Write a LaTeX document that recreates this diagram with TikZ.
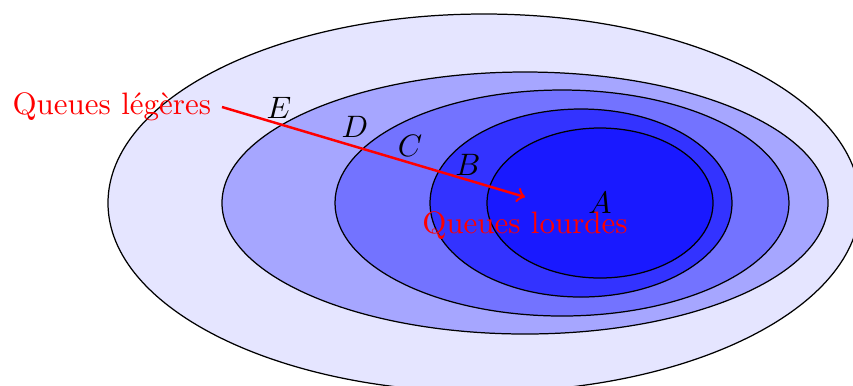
\documentclass[tikz,border=0pt]{standalone}
\begin{document}
\begin{tikzpicture}[x=0.3226pt,y=-0.3226pt,
  zone/.style={draw=black,line width=0.4pt},
  lab/.style={font=\itshape},
  redlab/.style={text=red},
  flow/.style={red,thick,-to}]
\useasboundingbox (0,0) rectangle (853,385);
\begin{scope}
\clip (0,0) rectangle (853,385);
\draw[zone,fill=blue!10] (484,203) ellipse [x radius=376,y radius=189];
\end{scope}
\draw[zone,fill=blue!35] (525,203) ellipse [x radius=303,y radius=131];
\draw[zone,fill=blue!55] (562,203) ellipse [x radius=227,y radius=113];
\draw[zone,fill=blue!80] (581,203) ellipse [x radius=151,y radius=94];
\draw[zone,fill=blue!90] (600,203) ellipse [x radius=113,y radius=75];
\node[lab] (lE) at (279,108) {$E$};
\node[lab] (lD) at (355,127) {$D$};
\node[lab] (lC) at (410,146) {$C$};
\node[lab] (lB) at (468,165) {$B$};
\node[lab] (lA) at (600,203) {$A$};
\coordinate (s) at (222,107);
\coordinate (t) at (525,197);
\node[redlab,anchor=east] (light) at (s) {Queues légères};
\node[redlab] (heavy) at (525,226) {Queues lourdes};
\draw[flow] (s) -- (t);
\end{tikzpicture}
\end{document}
